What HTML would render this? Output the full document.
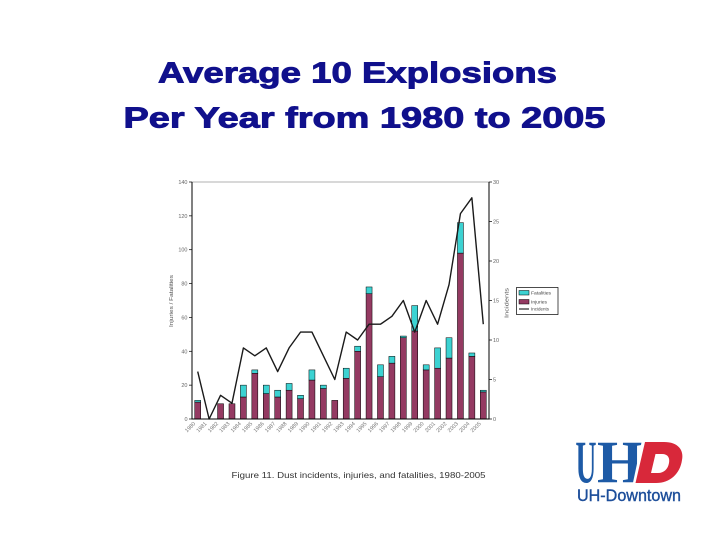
<!DOCTYPE html>
<html><head><meta charset="utf-8"><style>
html,body{margin:0;padding:0;background:#fff;}
svg{display:block;}
</style></head><body>
<svg width="728" height="546" viewBox="0 0 728 546" xmlns="http://www.w3.org/2000/svg" font-family="Liberation Sans, Arial, sans-serif">
<rect width="728" height="546" fill="#fff"/>
<!-- Title -->
<text x="158" y="82.5" font-size="29" font-weight="bold" fill="#10108c" stroke="#10108c" stroke-width="0.9" textLength="399" lengthAdjust="spacingAndGlyphs">Average 10 Explosions</text>
<text x="123.5" y="127.5" font-size="29" font-weight="bold" fill="#10108c" stroke="#10108c" stroke-width="0.9" textLength="482" lengthAdjust="spacingAndGlyphs">Per Year from 1980 to 2005</text>

<!-- Plot frame -->
<line x1="192" y1="182" x2="489" y2="182" stroke="#999" stroke-width="0.8"/>
<!-- Bars -->
<g stroke="#000" stroke-width="0.5">
<g fill="#943a62">
<rect x="194.71" y="402.07" width="6" height="16.93"/>
<rect x="217.56" y="403.76" width="6" height="15.24"/>
<rect x="228.98" y="403.76" width="6" height="15.24"/>
<rect x="240.40" y="396.99" width="6" height="22.01"/>
<rect x="251.83" y="373.29" width="6" height="45.71"/>
<rect x="263.25" y="393.61" width="6" height="25.39"/>
<rect x="274.67" y="396.99" width="6" height="22.01"/>
<rect x="286.10" y="390.22" width="6" height="28.78"/>
<rect x="297.52" y="398.69" width="6" height="20.31"/>
<rect x="308.94" y="380.06" width="6" height="38.94"/>
<rect x="320.37" y="388.53" width="6" height="30.47"/>
<rect x="331.79" y="400.38" width="6" height="18.62"/>
<rect x="343.21" y="378.37" width="6" height="40.63"/>
<rect x="354.63" y="351.29" width="6" height="67.71"/>
<rect x="366.06" y="293.73" width="6" height="125.27"/>
<rect x="377.48" y="376.68" width="6" height="42.32"/>
<rect x="388.90" y="363.14" width="6" height="55.86"/>
<rect x="400.33" y="337.74" width="6" height="81.26"/>
<rect x="411.75" y="330.97" width="6" height="88.03"/>
<rect x="423.17" y="369.91" width="6" height="49.09"/>
<rect x="434.60" y="368.21" width="6" height="50.79"/>
<rect x="446.02" y="358.06" width="6" height="60.94"/>
<rect x="457.44" y="253.10" width="6" height="165.90"/>
<rect x="468.87" y="356.36" width="6" height="62.64"/>
<rect x="480.29" y="391.91" width="6" height="27.09"/>
</g>
<g fill="#3cd2d2">
<rect x="194.71" y="400.38" width="6" height="1.69"/>
<rect x="240.40" y="385.14" width="6" height="11.85"/>
<rect x="251.83" y="369.91" width="6" height="3.38"/>
<rect x="263.25" y="385.14" width="6" height="8.47"/>
<rect x="274.67" y="390.22" width="6" height="6.77"/>
<rect x="286.10" y="383.45" width="6" height="6.77"/>
<rect x="297.52" y="395.30" width="6" height="3.39"/>
<rect x="308.94" y="369.91" width="6" height="10.15"/>
<rect x="320.37" y="385.14" width="6" height="3.39"/>
<rect x="343.21" y="368.21" width="6" height="10.16"/>
<rect x="354.63" y="346.21" width="6" height="5.08"/>
<rect x="366.06" y="286.96" width="6" height="6.77"/>
<rect x="377.48" y="364.83" width="6" height="11.85"/>
<rect x="388.90" y="356.36" width="6" height="6.78"/>
<rect x="400.33" y="336.05" width="6" height="1.69"/>
<rect x="411.75" y="305.58" width="6" height="25.39"/>
<rect x="423.17" y="364.83" width="6" height="5.08"/>
<rect x="434.60" y="347.90" width="6" height="20.31"/>
<rect x="446.02" y="337.74" width="6" height="20.32"/>
<rect x="457.44" y="222.63" width="6" height="30.47"/>
<rect x="468.87" y="352.98" width="6" height="3.38"/>
<rect x="480.29" y="390.22" width="6" height="1.69"/>
</g>
</g>
<!-- Incidents line -->
<polyline fill="none" stroke="#1a1a1a" stroke-width="1.4" stroke-linejoin="round" points="197.71,371.6 209.13,419 220.56,395.3 231.98,403.2 243.40,347.9 254.83,355.8 266.25,347.9 277.67,371.6 289.10,347.9 300.52,332.1 311.94,332.1 323.37,355.8 334.79,379.5 346.21,332.1 357.63,340 369.06,324.2 380.48,324.2 391.90,316.3 403.33,300.5 414.75,332.1 426.17,300.5 437.60,324.2 449.02,284.7 460.44,213.6 471.87,197.8 483.29,324.2"/>

<!-- Axes -->
<g stroke="#000" stroke-width="1">
<line x1="192" y1="182" x2="192" y2="419.5"/>
<line x1="489" y1="182" x2="489" y2="419.5"/>
<line x1="192" y1="419" x2="489" y2="419"/>
</g>
<g stroke="#000" stroke-width="0.7">
<line x1="189" y1="419" x2="192" y2="419"/><line x1="189" y1="385.14" x2="192" y2="385.14"/><line x1="189" y1="351.29" x2="192" y2="351.29"/><line x1="189" y1="317.43" x2="192" y2="317.43"/><line x1="189" y1="283.57" x2="192" y2="283.57"/><line x1="189" y1="249.71" x2="192" y2="249.71"/><line x1="189" y1="215.86" x2="192" y2="215.86"/><line x1="189" y1="182" x2="192" y2="182"/>
<line x1="489" y1="419" x2="492" y2="419"/><line x1="489" y1="379.5" x2="492" y2="379.5"/><line x1="489" y1="340" x2="492" y2="340"/><line x1="489" y1="300.5" x2="492" y2="300.5"/><line x1="489" y1="261" x2="492" y2="261"/><line x1="489" y1="221.5" x2="492" y2="221.5"/><line x1="489" y1="182" x2="492" y2="182"/>
</g>
<!-- Left tick labels -->
<g font-size="5.5" fill="#666" text-anchor="end">
<text x="187.5" y="421">0</text><text x="187.5" y="387.1">20</text><text x="187.5" y="353.3">40</text><text x="187.5" y="319.4">60</text><text x="187.5" y="285.6">80</text><text x="187.5" y="251.7">100</text><text x="187.5" y="217.9">120</text><text x="187.5" y="184">140</text>
</g>
<g font-size="5.5" fill="#666">
<text x="493" y="421">0</text><text x="493" y="381.5">5</text><text x="493" y="342">10</text><text x="493" y="302.5">15</text><text x="493" y="263">20</text><text x="493" y="223.5">25</text><text x="493" y="184">30</text>
</g>
<!-- Axis titles -->
<text transform="translate(173,301) rotate(-90)" font-size="5.5" fill="#555" text-anchor="middle" textLength="52" lengthAdjust="spacingAndGlyphs">Injuries / Fatalities</text>
<text transform="translate(508.5,303) rotate(-90)" font-size="5.5" fill="#555" text-anchor="middle" textLength="30" lengthAdjust="spacingAndGlyphs">Incidents</text>
<!-- X labels -->
<g font-size="5.5" fill="#777" text-anchor="end">
<text transform="translate(195.7,424) rotate(-45)">1980</text>
<text transform="translate(207.1,424) rotate(-45)">1981</text>
<text transform="translate(218.6,424) rotate(-45)">1982</text>
<text transform="translate(230.0,424) rotate(-45)">1983</text>
<text transform="translate(241.4,424) rotate(-45)">1984</text>
<text transform="translate(252.8,424) rotate(-45)">1985</text>
<text transform="translate(264.3,424) rotate(-45)">1986</text>
<text transform="translate(275.7,424) rotate(-45)">1987</text>
<text transform="translate(287.1,424) rotate(-45)">1988</text>
<text transform="translate(298.5,424) rotate(-45)">1989</text>
<text transform="translate(309.9,424) rotate(-45)">1990</text>
<text transform="translate(321.4,424) rotate(-45)">1991</text>
<text transform="translate(332.8,424) rotate(-45)">1992</text>
<text transform="translate(344.2,424) rotate(-45)">1993</text>
<text transform="translate(355.6,424) rotate(-45)">1994</text>
<text transform="translate(367.1,424) rotate(-45)">1995</text>
<text transform="translate(378.5,424) rotate(-45)">1996</text>
<text transform="translate(389.9,424) rotate(-45)">1997</text>
<text transform="translate(401.3,424) rotate(-45)">1998</text>
<text transform="translate(412.8,424) rotate(-45)">1999</text>
<text transform="translate(424.2,424) rotate(-45)">2000</text>
<text transform="translate(435.6,424) rotate(-45)">2001</text>
<text transform="translate(447.0,424) rotate(-45)">2002</text>
<text transform="translate(458.4,424) rotate(-45)">2003</text>
<text transform="translate(469.9,424) rotate(-45)">2004</text>
<text transform="translate(481.3,424) rotate(-45)">2005</text>
</g>
<!-- Legend -->
<rect x="516.5" y="287.5" width="41.5" height="27" fill="#fff" stroke="#000" stroke-width="0.7"/>
<rect x="519" y="290.5" width="10" height="4.5" fill="#3cd2d2" stroke="#000" stroke-width="0.5"/>
<rect x="519" y="299.5" width="10" height="4.5" fill="#943a62" stroke="#000" stroke-width="0.5"/>
<line x1="519" y1="309" x2="529" y2="309" stroke="#000" stroke-width="1"/>
<g font-size="4.5" fill="#444">
<text x="531" y="294.5" textLength="20" lengthAdjust="spacingAndGlyphs">Fatalities</text>
<text x="531" y="303.5" textLength="16" lengthAdjust="spacingAndGlyphs">Injuries</text>
<text x="531" y="310.5" textLength="18" lengthAdjust="spacingAndGlyphs">Incidents</text>
</g>
<!-- Caption -->
<text x="231.5" y="478" font-size="8.5" fill="#333" textLength="254" lengthAdjust="spacingAndGlyphs">Figure 11.  Dust incidents, injuries, and fatalities, 1980-2005</text>

<!-- Logo -->
<text x="575.5" y="482.5" font-family="Liberation Serif, serif" font-weight="bold" font-size="60" fill="#1d5aa6" textLength="21" lengthAdjust="spacingAndGlyphs">U</text>
<text x="597" y="482.5" font-family="Liberation Serif, serif" font-weight="bold" font-size="60" fill="#1d5aa6" textLength="46" lengthAdjust="spacingAndGlyphs">H</text>
<polygon points="642,440 647,440 637.5,485 632.5,485" fill="#fff"/>
<path d="M645,442 L664,442 C678,442 684,450 682,460 C680,474 670,483 656,483 L635.5,483 Z M655.5,454 L651,473 L658,473 C664,473 668,469 669,463 C670,458 668,454 662,454 Z" fill="#d8283a" fill-rule="evenodd"/>
<text x="577" y="501" font-size="17" fill="#1d4e9a" stroke="#1d4e9a" stroke-width="0.4" textLength="104" lengthAdjust="spacingAndGlyphs">UH-Downtown</text>
</svg>
</body></html>
